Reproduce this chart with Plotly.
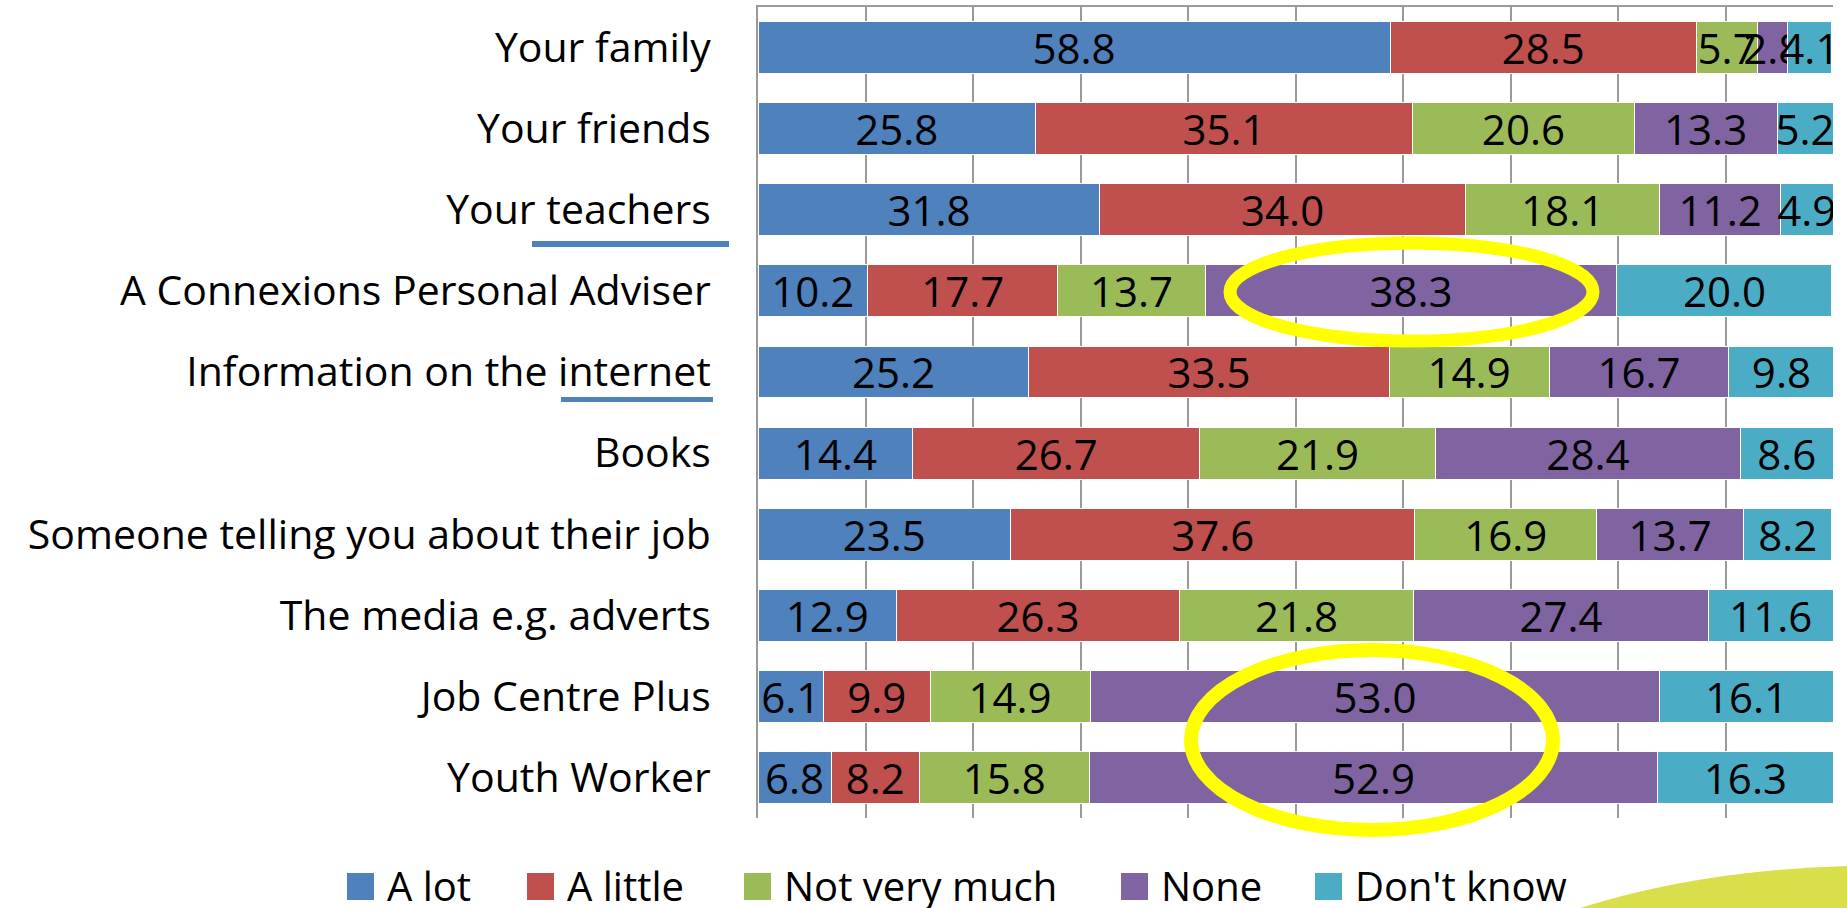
import plotly.graph_objects as go

# survey rows, top to bottom
sources = [
    "Your family",
    "Your friends",
    "Your teachers",
    "A Connexions Personal Adviser",
    "Information on the internet",
    "Books",
    "Someone telling you about their job",
    "The media e.g. adverts",
    "Job Centre Plus",
    "Youth Worker",
]

a_lot = [58.8, 25.8, 31.8, 10.2, 25.2, 14.4, 23.5, 12.9, 6.1, 6.8]
a_little = [28.5, 35.1, 34.0, 17.7, 33.5, 26.7, 37.6, 26.3, 9.9, 8.2]
not_very_much = [5.7, 20.6, 18.1, 13.7, 14.9, 21.9, 16.9, 21.8, 14.9, 15.8]
none = [2.8, 13.3, 11.2, 38.3, 16.7, 28.4, 13.7, 27.4, 53.0, 52.9]
dont_know = [4.1, 5.2, 4.9, 20.0, 9.8, 8.6, 8.2, 11.6, 16.1, 16.3]

series_names = ["A lot", "A little", "Not very much", "None", "Don't know"]
series_values = [a_lot, a_little, not_very_much, none, dont_know]
series_colors = ["#4F81BD", "#C0504D", "#9BBB59", "#8064A2", "#4BACC6"]

W, H = 1847, 908
L, R, T, B = 758, 14, 7, 90
FONT = "Open Sans"


def px_x(px):
    return (px - L) / (W - L - R)


def px_y(py):
    return (H - B - py) / (H - T - B)


fig = go.Figure()

for name, vals, col in zip(series_names, series_values, series_colors):
    fig.add_trace(go.Bar(
        y=sources, x=vals, name=name, orientation="h",
        marker=dict(color=col, line=dict(color="white", width=1)),
        text=[f"{v:.1f}" for v in vals],
        textposition="inside", insidetextanchor="middle",
        textangle=0, constraintext="none",
        textfont=dict(family=FONT, size=42, color="black"),
        showlegend=False,
    ))

fig.update_layout(
    width=W, height=H,
    barmode="stack", bargap=0.36,
    plot_bgcolor="white", paper_bgcolor="white",
    margin=dict(l=L, r=R, t=T, b=B),
    font=dict(family=FONT, color="black"),
    xaxis=dict(range=[0, 100], dtick=10, showgrid=True, gridcolor="#9a9a9a",
               gridwidth=2, showticklabels=False, zeroline=False,
               showline=True, linecolor="#9a9a9a", linewidth=2, side="top"),
    yaxis=dict(autorange="reversed", showline=True, linecolor="#9a9a9a",
               linewidth=2, ticks="", ticklabelstandoff=37,
               tickfont=dict(family=FONT, size=41, color="black")),
)

# yellow ellipses highlighting the "None" answers
fig.add_shape(type="circle", xref="paper", yref="paper",
              x0=px_x(1230), x1=px_x(1593), y0=px_y(243), y1=px_y(341),
              line=dict(color="#FFFF00", width=13))
fig.add_shape(type="circle", xref="paper", yref="paper",
              x0=px_x(1191), x1=px_x(1553), y0=px_y(650), y1=px_y(830),
              line=dict(color="#FFFF00", width=14))

# blue underlines under two of the labels
fig.add_shape(type="line", xref="paper", yref="paper",
              x0=px_x(532), x1=px_x(729), y0=px_y(244), y1=px_y(244),
              line=dict(color="#4F81BD", width=6))
fig.add_shape(type="line", xref="paper", yref="paper",
              x0=px_x(561), x1=px_x(713), y0=px_y(399.5), y1=px_y(399.5),
              line=dict(color="#4F81BD", width=5))

# green swoosh, bottom right corner of the slide
swoosh = "M {},{} Q {},{} {},{} L {},{} Z".format(
    px_x(1580), px_y(908), px_x(1700), px_y(870), px_x(1847), px_y(866),
    px_x(1847), px_y(908))
fig.add_shape(type="path", xref="paper", yref="paper", path=swoosh,
              fillcolor="#D8DF4A", line=dict(width=0), layer="below")

# hand-made legend with big squares
legend_x = [347, 527, 744, 1121, 1315]
for name, col, lx in zip(series_names, series_colors, legend_x):
    fig.add_shape(type="rect", xref="paper", yref="paper",
                  x0=px_x(lx), x1=px_x(lx + 27), y0=px_y(873), y1=px_y(900),
                  fillcolor=col, line=dict(width=0))
    fig.add_annotation(text=name, xref="paper", yref="paper",
                       x=px_x(lx + 38), y=px_y(885), xanchor="left",
                       yanchor="middle", showarrow=False,
                       font=dict(family=FONT, size=40, color="black"))

# the page's default 8px body margin would push the figure off the window
fig.write_html("out.html", config={"displayModeBar": False},
               post_script="document.body.style.margin = '0';")
